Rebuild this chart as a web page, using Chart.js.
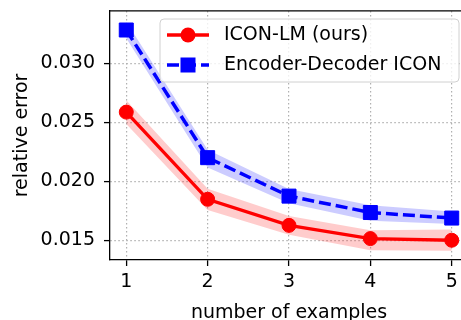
<!DOCTYPE html>
<html>
<head>
<meta charset="utf-8">
<script src="https://cdn.jsdelivr.net/npm/chart.js@4.4.1/dist/chart.umd.min.js"></script>
<style>
  html, body { margin: 0; padding: 0; overflow: hidden; background: #fff; }
  #wrap { width: 461px; height: 320px; overflow: hidden; }
</style>
</head>
<body>
<div id="wrap"><canvas id="myChart" width="480" height="340"></canvas></div>
<script>
  var xs = [1, 2, 3, 4, 5];
  var lmErr = [0.02586, 0.01847, 0.01626, 0.01514, 0.01500];
  var lmLow = [0.02486, 0.01757, 0.01546, 0.01416, 0.01410];
  var lmHigh = [0.02686, 0.01937, 0.01706, 0.01584, 0.01592];
  var edErr = [0.03282, 0.02200, 0.01874, 0.01735, 0.01688];
  var edLow = [0.03212, 0.02116, 0.01814, 0.01665, 0.01637];
  var edHigh = [0.03352, 0.02267, 0.01934, 0.01796, 0.01743];
  var xTicks = [1, 2, 3, 4, 5];
  var yTicks = [0.015, 0.020, 0.025, 0.030];
  var names = ["ICON-LM (ours)", "Encoder-Decoder ICON"];

  var font = "'DejaVu Sans', sans-serif";
  Chart.defaults.font.family = font;
  Chart.defaults.font.size = 19;
  Chart.defaults.color = "#000";

  function pts(arr) {
    return xs.map(function (x, i) { return { x: x, y: arr[i] }; });
  }

  // top/right spines
  var frame = {
    id: "frame",
    afterDatasetsDraw: function (c) {
      var a = c.chartArea, ctx = c.ctx;
      ctx.save();
      ctx.strokeStyle = "#000";
      ctx.lineWidth = 1.3;
      ctx.beginPath();
      ctx.moveTo(a.left, a.top);
      ctx.lineTo(a.right, a.top);
      ctx.lineTo(a.right, a.bottom);
      ctx.stroke();
      ctx.restore();
    }
  };

  // legend in the upper right, drawn like matplotlib
  var legendBox = {
    id: "legendBox",
    afterDraw: function (c) {
      var ctx = c.ctx;
      var x0 = 160, y0 = 19, w = 299, h = 63, r = 4;
      ctx.save();
      ctx.beginPath();
      ctx.roundRect(x0, y0, w, h, r);
      ctx.fillStyle = "rgba(255,255,255,0.8)";
      ctx.fill();
      ctx.strokeStyle = "#d0d0d0";
      ctx.lineWidth = 1;
      ctx.stroke();

      var rows = [35, 65];
      var ds = [c.data.datasets[4], c.data.datasets[5]];
      for (var i = 0; i < 2; i++) {
        var d = ds[i], y = rows[i];
        ctx.strokeStyle = d.borderColor;
        ctx.lineWidth = d.borderWidth;
        ctx.setLineDash(d.borderDash || []);
        ctx.beginPath();
        ctx.moveTo(167, y);
        ctx.lineTo(209, y);
        ctx.stroke();
        ctx.setLineDash([]);
        ctx.fillStyle = d.pointBackgroundColor;
        if (d.pointStyle === "rect") {
          ctx.fillRect(188 - 7.5, y - 7.5, 15, 15);
        } else {
          ctx.beginPath();
          ctx.arc(188, y, 7.5, 0, Math.PI * 2);
          ctx.fill();
        }
        ctx.fillStyle = "#000";
        ctx.font = "19px " + font;
        ctx.textBaseline = "middle";
        ctx.fillText(d.label, 224, y);
      }
      ctx.restore();
    }
  };

  var gridOpts = {
    color: "#b0b0b0", lineWidth: 1.2,
    tickLength: 6, tickColor: "#000", tickWidth: 1.3, tickBorderDash: []
  };
  var borderOpts = { color: "#000", width: 1.3, dash: [1.5, 2.5] };

  var chart = new Chart(document.getElementById("myChart"), {
    type: "line",
    data: {
      datasets: [
        { label: "lmHigh", data: pts(lmHigh), fill: "+1", backgroundColor: "rgba(255,0,0,0.2)", borderWidth: 0, pointRadius: 0, order: 2 },
        { label: "lmLow", data: pts(lmLow), fill: false, borderWidth: 0, pointRadius: 0, order: 2 },
        { label: "edHigh", data: pts(edHigh), fill: "+1", backgroundColor: "rgba(0,0,255,0.2)", borderWidth: 0, pointRadius: 0, order: 2 },
        { label: "edLow", data: pts(edLow), fill: false, borderWidth: 0, pointRadius: 0, order: 2 },
        {
          label: names[0], data: pts(lmErr), borderColor: "#ff0000", borderWidth: 3.3,
          pointStyle: "circle", pointRadius: 7, pointBorderWidth: 1,
          pointBackgroundColor: "#ff0000", pointBorderColor: "#ff0000", order: 1
        },
        {
          label: names[1], data: pts(edErr), borderColor: "#0000ff", borderWidth: 3.5, borderDash: [12, 5],
          pointStyle: "rect", pointRadius: 9.9, pointBorderWidth: 1,
          pointBackgroundColor: "#0000ff", pointBorderColor: "#0000ff", order: 0
        }
      ]
    },
    options: {
      responsive: false,
      animation: false,
      devicePixelRatio: 1,
      layout: { padding: { top: 8, right: 12, left: 0, bottom: 0 } },
      elements: { line: { tension: 0 } },
      plugins: { legend: { display: false }, tooltip: { enabled: false } },
      scales: {
        x: {
          type: "linear", min: 0.8, max: 5.2,
          afterBuildTicks: function (s) { s.ticks = xTicks.map(function (v) { return { value: v }; }); },
          afterFit: function (s) { s.height = 80; s.paddingLeft = 0; s.paddingRight = 0; },
          ticks: { padding: 5, maxRotation: 0, callback: function (v) { return String(v); } },
          grid: gridOpts,
          border: borderOpts,
          title: { display: true, text: "number of examples", padding: { top: 0, bottom: 16 } }
        },
        y: {
          min: 0.013325, max: 0.03444,
          afterBuildTicks: function (s) { s.ticks = yTicks.map(function (v) { return { value: v }; }); },
          afterFit: function (s) { s.width = 110; s.paddingTop = 0; s.paddingBottom = 0; },
          ticks: { padding: 9, callback: function (v) { return v.toFixed(3); } },
          grid: gridOpts,
          border: borderOpts,
          title: { display: true, text: "relative error", padding: { top: 11, bottom: 0 } }
        }
      }
    },
    plugins: [frame, legendBox]
  });
</script>
</body>
</html>
